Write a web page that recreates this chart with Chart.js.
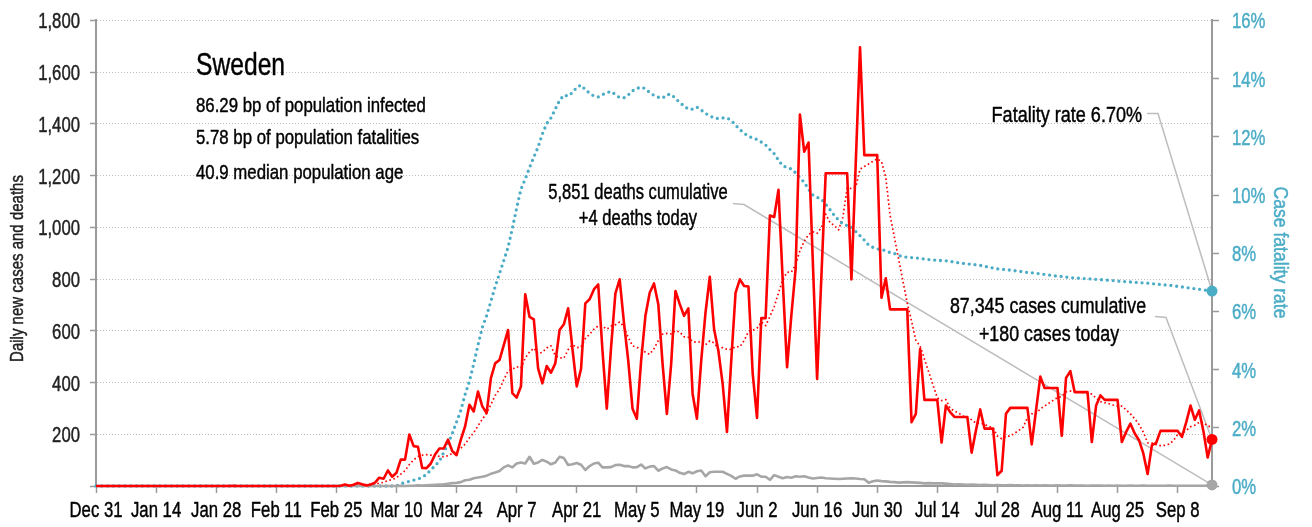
<!DOCTYPE html>
<html><head><meta charset="utf-8">
<script src="https://cdn.jsdelivr.net/npm/chart.js@4.4.1/dist/chart.umd.min.js"></script>
<style>html,body{margin:0;padding:0;background:#fff;}#wrap{width:1312px;height:527px;position:relative;}</style>
</head><body><div id="wrap"><canvas id="c" width="1312" height="527"></canvas></div>
<script>
const tickLabels = ["Dec 31","Jan 14","Jan 28","Feb 11","Feb 25","Mar 10","Mar 24","Apr 7","Apr 21","May 5","May 19","Jun 2","Jun 16","Jun 30","Jul 14","Jul 28","Aug 11","Aug 25","Sep 8"];
const monthNames = ["Jan","Feb","Mar","Apr","May","Jun","Jul","Aug","Sep","Oct","Nov","Dec"];
const leftTicks = [200,400,600,800,1000,1200,1400,1600,1800];
const rightTicks = [0,2,4,6,8,10,12,14,16];

const cases = [0,0,0,0,0,0,0,0,0,0,
0,0,0,0,0,0,0,0,0,0,
0,0,0,0,0,0,0,0,0,0,
0,0,1,0,0,0,0,0,0,0,
0,0,0,0,0,0,0,0,0,0,
0,0,0,0,0,0,0,1,6,1,
5,12,7,2,6,13,32,28,60,36,
51,102,102,199,154,152,70,69,87,122,
145,145,179,135,119,179,231,314,288,365,
308,282,417,474,487,545,603,359,342,385,
741,654,644,455,397,464,438,474,603,625,
687,530,385,453,706,722,760,779,523,299,
536,744,799,632,485,299,260,485,658,747,
783,703,472,279,472,754,703,658,687,356,
260,485,670,809,606,523,395,209,485,747,
799,773,771,433,263,649,649,1046,1040,1145,
792,459,660,840,1436,1292,1328,869,414,811,
1209,1209,1209,1209,1209,1209,799,1247,1696,1279,
1279,1279,1279,728,803,683,683,683,683,683,
247,279,529,333,333,333,333,168,311,286,
267,267,267,267,129,215,296,222,222,222,
42,59,279,302,302,302,302,302,161,292,
423,379,379,379,379,194,418,444,363,363,
363,363,170,311,350,333,333,333,333,170,
209,241,203,177,126,46,158,167,213,213,
213,213,213,190,247,311,256,292,212,110,
180];

const casesAvg = [0,0,0,0,0,0,0,0,0,0,
0,0,0,0,0,0,0,0,0,0,
0,0,0,0,0,0,0,0,0,0,
0,0,0,0,0,0,0,0,0,0,
0,0,0,0,0,0,0,0,0,0,
0,0,0,0,0,0,0,0,1,1,
2,4,5,5,6,7,11,14,21,25,
32,46,59,83,101,114,119,121,119,122,
114,113,117,126,133,146,162,186,206,233,
258,281,315,350,374,411,445,452,461,456,
495,518,533,511,517,534,542,504,496,494,
527,546,535,537,570,587,606,619,618,606,
618,623,634,616,574,542,536,529,517,509,
531,562,587,590,588,601,595,577,575,558,
556,558,546,561,553,530,535,528,528,539,
538,562,597,602,610,634,620,655,693,746,
798,826,827,855,910,946,972,983,977,999,
1051,1019,1007,990,1039,1152,1150,1156,1225,1235,
1245,1255,1265,1255,1192,1047,962,877,792,707,
638,563,541,491,441,391,341,330,334,300,
290,281,271,262,256,243,244,238,231,225,
193,183,192,193,204,215,227,264,279,280,
298,309,320,331,342,346,364,367,365,363,
361,358,355,340,326,322,318,313,309,309,
294,279,260,238,208,167,166,160,156,157,
162,175,199,203,215,229,235,246,246,231,
230];

const deaths = [0,0,0,0,0,0,0,0,0,0,
0,0,0,0,0,0,0,0,0,0,
0,0,0,0,0,0,0,0,0,0,
0,0,0,0,0,0,0,0,0,0,
0,0,0,0,0,0,0,0,0,0,
0,0,0,0,0,0,0,0,0,0,
0,0,0,0,0,0,0,0,0,0,
0,1,0,1,1,3,2,3,4,5,
6,7,9,11,12,15,22,24,30,33,
36,40,47,52,58,72,80,72,87,91,
87,113,86,91,101,94,84,91,113,108,
81,84,89,82,62,77,87,90,72,72,
73,81,82,77,77,72,73,83,68,75,
77,59,68,73,64,60,51,46,55,49,
57,60,38,53,55,55,55,47,39,28,
37,40,40,40,45,36,36,24,42,36,
30,35,32,38,36,38,33,29,31,33,
30,29,28,27,28,29,30,29,27,26,
13,18,21,19,18,16,15,13,14,15,
14,13,12,10,11,10,10,10,9,8,
6,7,6,5,6,5,4,5,4,3,
4,3,3,4,3,3,2,3,2,3,
2,3,2,2,3,2,2,3,2,2,
2,1,2,2,2,1,2,1,2,1,
1,2,1,1,2,1,1,1,1,1,
2,1,1,1,1,1,1,1,1,1,
4];

const fatalityRate = [0,0,0,0,0,0,0,0,0,0,
0,0,0,0,0,0,0,0,0,0,
0,0,0,0,0,0,0,0,0,0,
0,0,0,0,0,0,0,0,0,0,
0,0,0,0,0,0,0,0,0,0,
0,0,0,0,0,0,0,0,0,0,
0,0,0,0,0,0,0,0,0,0,
0,0.08,0.12,0.16,0.2,0.24,0.3,0.4,0.55,0.7,
0.85,1.15,1.45,1.8,2.2,2.6,3.15,3.6,4.2,4.85,
5.45,5.85,6.35,6.85,7.3,7.75,8.2,8.85,9.55,10.2,
10.55,10.94,11.3,11.65,12.1,12.45,12.65,12.95,13.25,13.43,
13.4,13.52,13.7,13.78,13.62,13.5,13.4,13.37,13.45,13.52,
13.56,13.45,13.35,13.34,13.44,13.58,13.66,13.71,13.65,13.52,
13.42,13.36,13.33,13.45,13.46,13.32,13.18,13.06,12.95,12.95,
13.02,12.92,12.8,12.73,12.64,12.63,12.65,12.65,12.56,12.4,
12.25,12.12,12.02,11.96,11.91,11.82,11.72,11.56,11.42,11.2,
11.0,10.95,10.89,10.76,10.6,10.43,10.2,10.0,9.92,9.86,
9.68,9.5,9.3,9.14,9.0,8.95,8.9,8.75,8.6,8.45,
8.28,8.2,8.15,8.12,8.09,8.02,7.99,7.92,7.88,7.86,
7.85,7.84,7.82,7.8,7.78,7.77,7.75,7.75,7.74,7.72,
7.69,7.67,7.65,7.63,7.62,7.6,7.58,7.55,7.52,7.49,
7.46,7.45,7.43,7.42,7.4,7.38,7.36,7.34,7.33,7.31,
7.29,7.27,7.25,7.23,7.21,7.2,7.18,7.16,7.15,7.14,
7.13,7.12,7.11,7.1,7.09,7.08,7.07,7.06,7.04,7.03,
7.02,7.01,7.0,6.99,6.98,6.97,6.95,6.94,6.92,6.91,
6.9,6.88,6.86,6.84,6.82,6.8,6.78,6.76,6.74,6.72,
6.7];

const headline = ["Sweden","86.29 bp of population infected","5.78 bp of population fatalities","40.9 median population age"];
const deathsNote = ["5,851 deaths cumulative","+4 deaths today"];
const casesNote = ["87,345 cases cumulative","+180 cases today"];
const rateNote = "Fatality rate 6.70%";
const leftTitle = "Daily new cases and deaths";
const rightTitle = "Case fatality rate";

const labels = [];
for (let i = 0; i < cases.length; i++) {
  const d = new Date(Date.UTC(2019, 11, 31 + i));
  labels.push(monthNames[d.getUTCMonth()] + " " + d.getUTCDate());
}
const tickSet = new Set(tickLabels);
const last = cases.length - 1;

const FAM = "'Liberation Sans', Arial, 'DejaVu Sans', sans-serif";
Chart.defaults.font.family = FAM;
const TXT = '#000';
const BLUE = '#4bacc6';
const AX = '#9a9a9a';
const NONE = 'rgba(0,0,0,0)';

const endR = r => ctx => ctx.dataIndex === last ? r : 0;

// condensed text helper (horizontal squeeze k, light stroke for weight)
function txt(c, s, x, y, size, k, align, color, rot, base) {
  c.save();
  c.translate(x, y);
  if (rot) c.rotate(rot);
  c.scale(k, 1);
  c.font = size + 'px ' + FAM;
  c.textAlign = align;
  c.textBaseline = base || 'alphabetic';
  c.fillStyle = color;
  c.strokeStyle = color;
  c.lineWidth = 0.45;
  c.lineJoin = 'round';
  c.fillText(s, 0, 0);
  c.strokeText(s, 0, 0);
  c.restore();
}

const annot = {
  id: 'annot',
  beforeDatasetsDraw(chart) {
    const c = chart.ctx, xs = chart.scales.x, ys = chart.scales.y, yr = chart.scales.y1;
    const xe = xs.getPixelForValue(last);
    c.save();
    c.strokeStyle = '#bdbdbd';
    c.lineWidth = 1.5;
    const path = pts => { c.beginPath(); c.moveTo(pts[0][0], pts[0][1]); for (let k = 1; k < pts.length; k++) c.lineTo(pts[k][0], pts[k][1]); c.stroke(); };
    path([[733, 203.5], [744, 204.5], [xe, ys.getPixelForValue(deaths[last])]]);
    path([[1155, 316.5], [1166, 317.5], [xe, ys.getPixelForValue(cases[last])]]);
    path([[1147, 113.5], [1158, 113.5], [xe, yr.getPixelForValue(fatalityRate[last])]]);
    c.restore();

    txt(c, headline[0], 196, 75, 32, 0.77, 'left', TXT);
    txt(c, headline[1], 196, 112, 21, 0.8, 'left', TXT);
    txt(c, headline[2], 196, 143.5, 21, 0.8, 'left', TXT);
    txt(c, headline[3], 196, 178.5, 21, 0.8, 'left', TXT);
    txt(c, deathsNote[0], 638, 199, 21.5, 0.77, 'center', TXT);
    txt(c, deathsNote[1], 638, 224.5, 21.5, 0.77, 'center', TXT);
    txt(c, casesNote[0], 1048, 312.5, 22, 0.81, 'center', TXT);
    txt(c, casesNote[1], 1049, 340.5, 22, 0.81, 'center', TXT);
    txt(c, rateNote, 1142, 121.5, 22, 0.82, 'right', TXT);
  },
  afterDraw(chart) {
    const c = chart.ctx, xs = chart.scales.x, ys = chart.scales.y, yr = chart.scales.y1;
    for (let i = 0; i < labels.length; i++) {
      if (tickSet.has(labels[i])) txt(c, labels[i], xs.getPixelForValue(i), 516.5, 22, 0.76, 'center', TXT);
    }
    leftTicks.forEach(v => txt(c, v.toLocaleString('en-US'), 80, ys.getPixelForValue(v) + 8, 22, 0.76, 'right', '#222'));
    rightTicks.forEach(v => txt(c, v + '%', 1232, yr.getPixelForValue(v) + 8, 22, 0.76, 'left', BLUE));
    txt(c, leftTitle, 18, 268.5, 19, 0.79, 'center', '#222', -Math.PI / 2, 'middle');
    txt(c, rightTitle, 1280, 252.5, 20, 0.88, 'center', BLUE, Math.PI / 2, 'middle');
  }
};

new Chart(document.getElementById('c'), {
  type: 'line',
  data: {
    labels: labels,
    datasets: [
      { label: 'Cases 7-day average', data: casesAvg, yAxisID: 'y', order: 4,
        borderColor: '#ff0000', borderWidth: 1.7, borderDash: [1.6, 2.6], pointRadius: 0, tension: 0 },
      { label: 'Case fatality rate', data: fatalityRate, yAxisID: 'y1', order: 3, clip: false,
        borderColor: BLUE, borderWidth: 3.3, borderDash: [0, 5.8], borderCapStyle: 'round',
        pointRadius: endR(5.5), pointBackgroundColor: BLUE, pointBorderWidth: 0, tension: 0 },
      { label: 'Daily deaths', data: deaths, yAxisID: 'y', order: 2, clip: false,
        borderColor: '#a6a6a6', borderWidth: 2.6, pointRadius: endR(5.5),
        pointBackgroundColor: '#a6a6a6', pointBorderWidth: 0, tension: 0 },
      { label: 'Daily cases', data: cases, yAxisID: 'y', order: 1, clip: false,
        borderColor: '#ff0000', borderWidth: 2.6, pointRadius: endR(5.5),
        pointBackgroundColor: '#ff0000', pointBorderWidth: 0, tension: 0 }
    ]
  },
  options: {
    responsive: false,
    animation: false,
    devicePixelRatio: 1,
    layout: { padding: { top: 18, left: 0, right: 0, bottom: 0 } },
    plugins: { legend: { display: false }, tooltip: { enabled: false } },
    elements: { line: { borderJoinStyle: 'round' } },
    scales: {
      x: {
        type: 'category', offset: false,
        grid: { drawOnChartArea: false, drawTicks: true, tickLength: 7, tickColor: AX, tickWidth: 1.5 },
        border: { display: true, color: AX, width: 2 },
        ticks: { autoSkip: false, maxRotation: 0, minRotation: 0, padding: 3, color: NONE,
          font: { size: 14 }, callback: (v, i) => tickSet.has(labels[i]) ? labels[i] : null },
        afterFit: s => { s.height = 41; }
      },
      y: {
        position: 'left', min: 0, max: 1800,
        ticks: { stepSize: 200, padding: 11, color: NONE, font: { size: 14 },
          callback: v => v === 0 ? '' : v.toLocaleString('en-US') },
        grid: { color: '#bdbdbd', lineWidth: 1, tickLength: 6, tickColor: AX, tickWidth: 1.5 },
        border: { display: true, color: AX, width: 2, dash: [1, 2] },
        title: { display: false },
        afterFit: s => { s.width = 96; }
      },
      y1: {
        position: 'right', min: 0, max: 16,
        ticks: { stepSize: 2, padding: 12, color: NONE, font: { size: 14 }, callback: v => v + '%' },
        grid: { drawOnChartArea: false, tickLength: 7, tickColor: AX, tickWidth: 1.5 },
        border: { display: true, color: AX, width: 2 },
        title: { display: false },
        afterFit: s => { s.width = 100; }
      }
    }
  },
  plugins: [annot]
});
</script>
</body></html>
